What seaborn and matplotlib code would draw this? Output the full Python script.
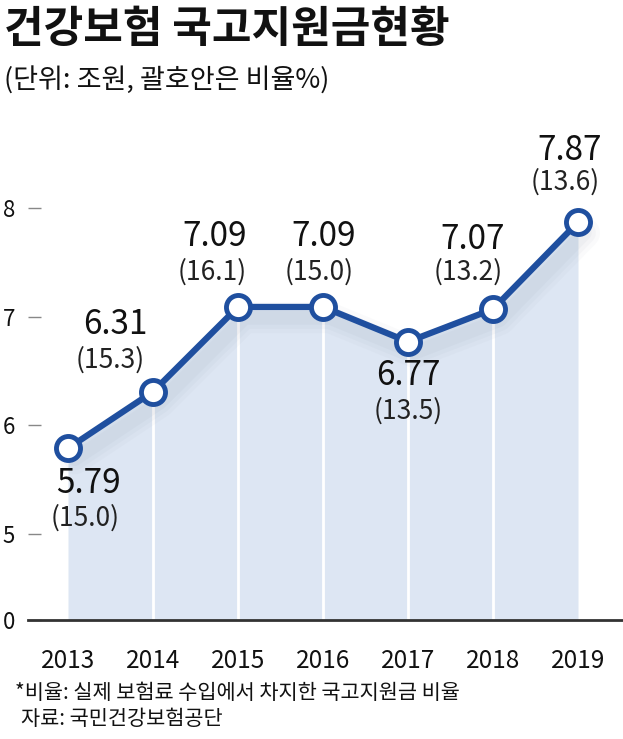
import matplotlib
matplotlib.use("Agg")
import matplotlib.pyplot as plt
import numpy as np
import pandas as pd
import seaborn as sns

# data
years = ["2013", "2014", "2015", "2016", "2017", "2018", "2019"]
support = [5.79, 6.31, 7.09, 7.09, 6.77, 7.07, 7.87]      # 조원
ratio = [15.0, 15.3, 16.1, 15.0, 13.5, 13.2, 13.6]         # %
ytick_vals = [5, 6, 7, 8]

# label offsets in pixels (value label, ratio label) relative to each point
value_off = [(20, -35), (-38, 67), (-23, 70), (1, 70), (0, -34), (-20, 70), (-8, 72)]
ratio_off = [(17, -70), (-43, 32), (-26, 35), (-4, 35), (0, -69), (-25, 37), (-13, 40)]

LINE = "#1f4f9f"
FILL = "#dde6f3"
BASE = 4.21  # where the broken "0" sits

sns.set_theme(style="white")
plt.rcParams["font.family"] = ["Noto Sans CJK KR", "DejaVu Sans"]

df = pd.DataFrame({"x": np.arange(len(years)), "y": support})

fig = plt.figure(figsize=(6.23, 7.39), dpi=100)
ax = fig.add_axes([28 / 623, 1 - 620 / 739, 1 - 28 / 623, (620 - 99) / 739])

# shaded area + white separators
ax.fill_between(df["x"], df["y"], BASE, color=FILL, lw=0, zorder=1)
for xi, yi in zip(df["x"][1:-1], df["y"][1:-1]):
    ax.vlines(xi, BASE, yi, color="white", lw=2, zorder=2)

# soft shadow under the line
for w, a in [(22, 0.04), (16, 0.05), (10, 0.06)]:
    ax.plot(df["x"] + 0.08, df["y"] - 0.1, color="#8a94a6", lw=w, alpha=a,
            solid_capstyle="round", zorder=2)

sns.lineplot(data=df, x="x", y="y", ax=ax, color=LINE, lw=4.5, zorder=3)
ax.scatter(df["x"], df["y"], s=300, facecolor="white", edgecolor=LINE,
           linewidth=3.5, zorder=4)

px = 72 / 100
for i, (v, r) in enumerate(zip(support, ratio)):
    ax.annotate(f"{v:.2f}", (i, v), xytext=(value_off[i][0] * px, value_off[i][1] * px),
                textcoords="offset points", ha="center", va="center",
                fontsize=24, fontweight="medium", color="#111111", zorder=5)
    ax.annotate(f"({r:.1f})", (i, v), xytext=(ratio_off[i][0] * px, ratio_off[i][1] * px),
                textcoords="offset points", ha="center", va="center",
                fontsize=19, color="#222222", zorder=5)

ax.set_xlim(-40 / 85, 6 + 45 / 85)
ax.set_ylim(BASE, BASE + (620 - 99) / 108.7)
ax.set_xticks(df["x"])
ax.set_xticklabels(years)
ax.set_yticks([BASE] + ytick_vals)
ax.set_yticklabels(["0"] + [str(t) for t in ytick_vals])
ax.tick_params(axis="x", bottom=False, pad=14, labelsize=17.5, labelcolor="#111111")
ax.tick_params(axis="y", left=True, direction="in", length=9, width=1, color="#888888",
               pad=-2, labelsize=16, labelcolor="#111111")
for t in ax.get_yticklabels():
    t.set_horizontalalignment("left")
    t.set_x(-28 / 595)
ax.set_xlabel("")
ax.set_ylabel("")
for s in ["top", "right", "left"]:
    ax.spines[s].set_visible(False)
ax.spines["bottom"].set_color("#333333")
ax.spines["bottom"].set_linewidth(2)

fig.text(0.006, 0.99, "건강보험 국고지원금현황", fontsize=31, fontweight="bold",
         va="top", ha="left", color="#111111")
fig.text(0.006, 0.91, "(단위: 조원, 괄호안은 비율%)", fontsize=19.5,
         va="top", ha="left", color="#111111")
fig.text(0.024, 0.062, "*비율: 실제 보험료 수입에서 차지한 국고지원금 비율", fontsize=15,
         va="center", ha="left", color="#111111")
fig.text(0.034, 0.027, "자료: 국민건강보험공단", fontsize=15,
         va="center", ha="left", color="#111111")

fig.savefig("out.png", dpi=100)
